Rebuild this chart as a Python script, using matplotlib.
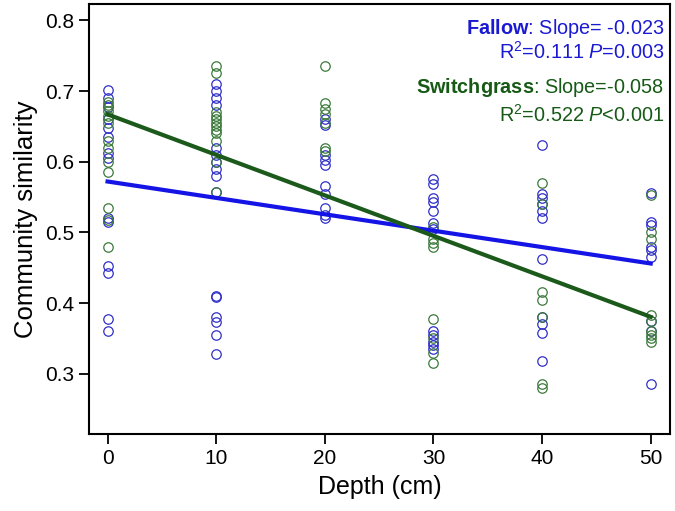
import numpy as np
import matplotlib
matplotlib.use('Agg')
import matplotlib.pyplot as plt

plt.rcParams['font.family'] = 'Liberation Sans'
plt.rcParams['mathtext.fontset'] = 'custom'
plt.rcParams['mathtext.rm'] = 'Liberation Sans'
plt.rcParams['mathtext.it'] = 'Liberation Sans:italic'
plt.rcParams['mathtext.bf'] = 'Liberation Sans:bold'

# community similarity, by depth (cm)
fallow = {
    0: [0.702, 0.69, 0.678, 0.66, 0.648, 0.635, 0.612, 0.605, 0.52, 0.515,
        0.452, 0.442, 0.378, 0.36],
    10: [0.71, 0.70, 0.69, 0.68, 0.62, 0.61, 0.60, 0.59, 0.58, 0.557,
         0.41, 0.408, 0.38, 0.373, 0.355, 0.328],
    20: [0.66, 0.652, 0.61, 0.603, 0.595, 0.565, 0.555, 0.535, 0.525, 0.52],
    30: [0.575, 0.568, 0.548, 0.543, 0.53, 0.513, 0.505, 0.36, 0.355,
         0.345, 0.34, 0.335],
    40: [0.624, 0.555, 0.548, 0.54, 0.53, 0.52, 0.462, 0.38, 0.37, 0.358,
         0.318],
    50: [0.556, 0.515, 0.51, 0.48, 0.475, 0.465, 0.375, 0.36, 0.286],
}
switchgrass = {
    0: [0.685, 0.68, 0.672, 0.665, 0.655, 0.63, 0.62, 0.6, 0.585, 0.535,
        0.518, 0.48],
    10: [0.736, 0.725, 0.67, 0.665, 0.66, 0.655, 0.65, 0.645, 0.64, 0.63,
         0.6, 0.557],
    20: [0.736, 0.683, 0.675, 0.668, 0.655, 0.62, 0.615],
    30: [0.508, 0.49, 0.485, 0.48, 0.377, 0.35, 0.33, 0.315],
    40: [0.57, 0.54, 0.415, 0.405, 0.38, 0.285, 0.28],
    50: [0.553, 0.5, 0.49, 0.383, 0.375, 0.36, 0.355, 0.35, 0.345],
}

# regression lines (intercept, slope per cm)
fallow_fit = (0.572, -0.00232)
switch_fit = (0.667, -0.00573)

blue_pt = '#3030c8'
green_pt = '#3c7a3c'
blue_line = '#1414e6'
green_line = '#1c5a1c'

fig = plt.figure(figsize=(6.75, 5.11), dpi=100)
ax = fig.add_axes([0.132, 0.151, 0.861, 0.841])

for d, vals in fallow.items():
    ax.plot([d] * len(vals), vals, 'o', mfc='none', mec=blue_pt, ms=6.8, mew=0.9)
for d, vals in switchgrass.items():
    ax.plot([d] * len(vals), vals, 'o', mfc='none', mec=green_pt, ms=6.8, mew=0.9)

xx = np.array([0, 50])
ax.plot(xx, fallow_fit[0] + fallow_fit[1] * xx, color=blue_line, lw=3)
ax.plot(xx, switch_fit[0] + switch_fit[1] * xx, color=green_line, lw=3)

ax.set_xlim(-1.7, 51.8)
ax.set_ylim(0.215, 0.823)
ax.set_xticks([0, 10, 20, 30, 40, 50])
ax.set_yticks([0.3, 0.4, 0.5, 0.6, 0.7, 0.8])
ax.tick_params(direction='out', length=7.5, width=1.3, labelsize=15)
for s in ax.spines.values():
    s.set_linewidth(1.5)

ax.set_xlabel('Depth (cm)', fontsize=18, labelpad=5)
ax.set_ylabel('Community similarity', fontsize=18.5, labelpad=5)

tx = 0.99
fs = 14.3
ax.text(tx, 0.944, r'$\mathbf{Fallow}$: Slope= -0.023', transform=ax.transAxes,
        ha='right', va='center', fontsize=fs, color='#1a1ad2')
ax.text(tx, 0.888, r'R$^2$=0.111 $\it{P}$=0.003', transform=ax.transAxes,
        ha='right', va='center', fontsize=fs, color='#1a1ad2')
ax.text(tx, 0.805, r'$\mathbf{Switchgrass}$: Slope=-0.058', transform=ax.transAxes,
        ha='right', va='center', fontsize=fs, color='#165a16')
ax.text(tx, 0.742, r'R$^2$=0.522 $\it{P}$<0.001', transform=ax.transAxes,
        ha='right', va='center', fontsize=fs, color='#165a16')

fig.savefig('out.png', dpi=100)
